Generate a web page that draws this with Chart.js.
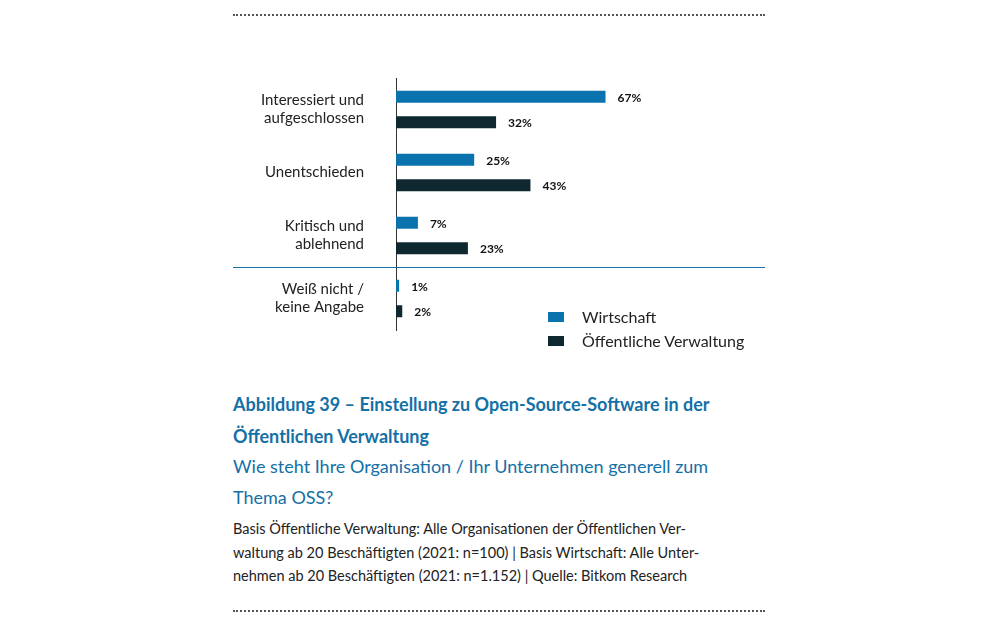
<!DOCTYPE html>
<html><head><meta charset="utf-8">
<script src="https://cdn.jsdelivr.net/npm/chart.js@4"></script>
<style>
body{margin:0;width:1000px;height:626px;background:#fff;font-family:Lato,"Open Sans",sans-serif;position:relative;overflow:hidden}
.dot{position:absolute;left:233px;width:532px;border-top:2px dotted #555}
#wrap{position:absolute;left:233px;top:28px;width:532px;height:352px}
.leg{position:absolute;left:548px;font-size:16px;color:#222}
.leg span{display:inline-block;width:16px;height:10px;margin-right:18px;vertical-align:1px}
.t{position:absolute;left:233px;width:540px;color:#1470a6}
</style></head><body>
<div class="dot" style="top:14px"></div>
<div class="dot" style="top:610px"></div>
<div id="wrap"><canvas id="c"></canvas></div>
<div class="leg" style="top:307px"><span style="background:#0a72ad"></span>Wirtschaft</div>
<div class="leg" style="top:331px"><span style="background:#0f2830"></span>Öffentliche Verwaltung</div>
<div class="t" style="top:388px;font-size:18px;font-weight:bold;line-height:32px">Abbildung 39 – Einstellung zu Open-Source-Software in der<br>Öffentlichen Verwaltung</div>
<div class="t" style="top:451px;font-size:18px;line-height:31px">Wie steht Ihre Organisation / Ihr Unternehmen generell zum<br>Thema OSS?</div>
<div class="t" style="top:517px;font-size:14.5px;line-height:23.5px;color:#222">Basis Öffentliche Verwaltung: Alle Organisationen der Öffentlichen Ver-<br>waltung ab 20 Beschäftigten (2021: n=100) | Basis Wirtschaft: Alle Unter-<br>nehmen ab 20 Beschäftigten (2021: n=1.152) | Quelle: Bitkom Research</div>
<script>
const categories=[["Interessiert und","aufgeschlossen"],"Unentschieden",["Kritisch und","ablehnend"],["Weiß nicht /","keine Angabe"]];
const wirtschaft=[67,25,7,1];
const verwaltung=[32,43,23,2];
const valLabels=v=>v+"%";
const plug={id:"p",afterDatasetsDraw(ch){const x=ch.ctx;x.save();x.font="bold 12px Lato, sans-serif";x.fillStyle="#111";x.textBaseline="middle";
ch.data.datasets.forEach((d,i)=>ch.getDatasetMeta(i).data.forEach((b,j)=>x.fillText(valLabels(d.data[j]),b.x+12,b.y+1)));
const ys=ch.scales.y;const yy=(ys.getPixelForValue(2)+ys.getPixelForValue(3))/2;x.strokeStyle="#1470a6";x.lineWidth=1;x.beginPath();x.moveTo(0,Math.round(yy)+.5);x.lineTo(ch.width,Math.round(yy)+.5);x.stroke();x.restore();}};
new Chart(document.getElementById("c"),{type:"bar",data:{labels:categories,datasets:[
{data:wirtschaft,backgroundColor:"#0a72ad",barPercentage:0.47,categoryPercentage:0.81},
{data:verwaltung,backgroundColor:"#0f2830",barPercentage:0.47,categoryPercentage:0.81}]},
options:{indexAxis:"y",responsive:true,maintainAspectRatio:false,animation:false,layout:{padding:0},
plugins:{legend:{display:false},tooltip:{enabled:false}},
scales:{x:{display:false,min:0,max:118},
y:{afterFit(s){s.width=163},grid:{display:false,drawTicks:false},border:{color:"#333",width:1},
ticks:{color:"#222",font:{size:15,family:"Lato, sans-serif"},padding:32}}}},plugins:[plug]});
</script></body></html>
